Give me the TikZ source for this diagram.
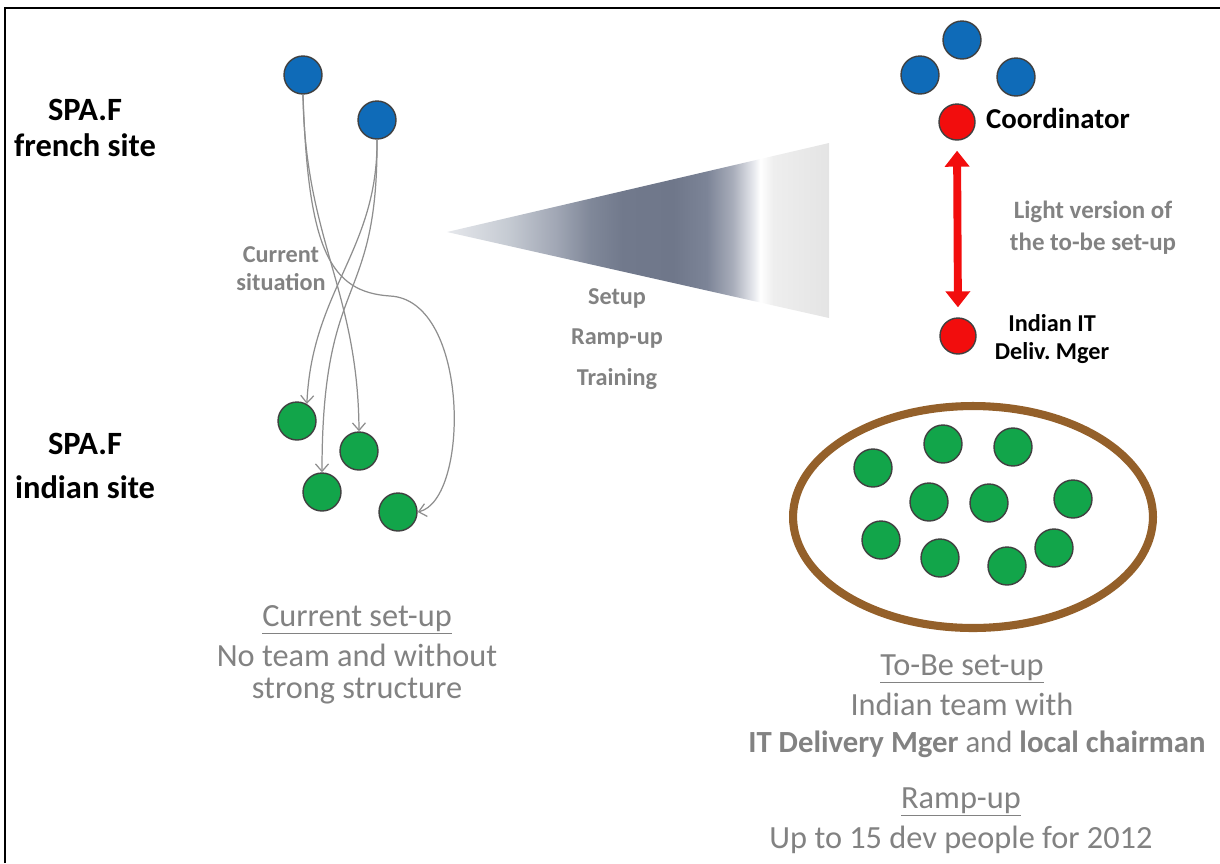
\documentclass[tikz,border=0pt]{standalone}
\usepackage{fontspec}
\setmainfont{Carlito}
\usetikzlibrary{arrows.meta,shapes.geometric}

\definecolor{pblue}{HTML}{0F6BB8}
\definecolor{pgreen}{HTML}{12A54A}
\definecolor{pred}{HTML}{F20D0D}
\definecolor{ring}{HTML}{94602A}
\definecolor{txtgray}{HTML}{828282}
\definecolor{linegray}{HTML}{8E8E8E}
\definecolor{wA}{HTML}{E6E8EC}
\definecolor{wB}{HTML}{C6CBD3}
\definecolor{wC}{HTML}{A0A6B4}
\definecolor{wD}{HTML}{808899}
\definecolor{wE}{HTML}{71798C}
\definecolor{wF}{HTML}{6F778A}
\definecolor{wG}{HTML}{7C8497}
\definecolor{wH}{HTML}{A8ADBA}
\definecolor{wI}{HTML}{E6E8ED}
\definecolor{wJ}{HTML}{EEEEEE}
\definecolor{wK}{HTML}{E4E4E4}
\pgfdeclarehorizontalshading{wedgefade}{100bp}{color(0bp)=(wA); color(25bp)=(wA);
  color(32.9bp)=(wB); color(39.4bp)=(wC); color(43.7bp)=(wD); color(48bp)=(wE);
  color(54.6bp)=(wF); color(59bp)=(wG); color(62.4bp)=(wH); color(65.1bp)=(wI);
  color(66bp)=(white); color(67.7bp)=(wJ); color(75bp)=(wK); color(100bp)=(wK)}

\begin{document}
\begin{tikzpicture}[x=0.02cm,y=-0.02cm,
  person/.style={circle,draw=black!75,line width=0.8pt,minimum size=0.76cm,inner sep=0pt},
  blueman/.style={person,fill=pblue},
  greenman/.style={person,fill=pgreen},
  redman/.style={person,fill=pred,minimum size=0.72cm},
  flow/.style={draw=linegray,line width=0.7pt,-{Straight Barb[length=0.15cm,width=0.26cm]}},
  site/.style={font=\fontsize{18.5}{22}\selectfont\bfseries,align=center},
  smallgray/.style={text=txtgray,font=\fontsize{13.8}{16}\selectfont\bfseries,align=center},
  bigtext/.style={text=txtgray,font=\fontsize{18.4}{22}\selectfont,anchor=base,inner sep=0pt}]
\useasboundingbox (0,0) rectangle (1220,863);
% frame of the slide
\draw[line width=1.4pt] (5,863) -- (5,8) -- (1220,8);

% current set-up (left)
\node[site] (frsite) at (85,128) {SPA.F\\[-1pt]french site};
\node[site] (insite) at (85,466) {SPA.F\\[3pt]indian site};
\node[smallgray] (cursit) at (281,269) {Current\\situation};
\node[blueman] (b1) at (303,75) {};
\node[blueman] (b2) at (377,120) {};
\node[greenman] (g1) at (297,421) {};
\node[greenman] (g2) at (359,451) {};
\node[greenman] (g3) at (322,492) {};
\node[greenman] (g4) at (398,512) {};
\draw[flow] (b1.south) .. controls (305,240) and (358,290) .. (g2.north);
\draw[flow] (b1.south) .. controls (308,250) and (330,292) .. (390,296)
  .. controls (470,300) and (470,500) .. (g4.east);
\draw[flow] (b2.south) .. controls (378,250) and (312,290) .. (g1.60);
\draw[flow] (b2.south) .. controls (378,310) and (322,270) .. (g3.north);

% transition wedge
\shade[shading=wedgefade] (447,232) -- (829,143) -- (829,318) -- cycle;
\node[smallgray,font=\fontsize{13.8}{23.2}\selectfont\bfseries] (steps) at (617,339) {Setup\\Ramp-up\\Training};

% to-be set-up (right)
\node[blueman] (b3) at (962,40) {};
\node[blueman] (b4) at (920,75) {};
\node[blueman] (b5) at (1016,77) {};
\node[redman] (coord) at (957,122) {};
\node[anchor=west,font=\fontsize{16.4}{18}\selectfont\bfseries] (coordtxt) at (980,118) {Coordinator};
\node[redman] (deliv) at (958,336) {};
\node[font=\fontsize{13.8}{16}\selectfont\bfseries,align=center] (delivtxt) at (1052,339) {Indian IT\\Deliv.\ Mger};
\draw[pred,line width=4.5pt,shorten <=0.2cm,shorten >=0.2cm,
  {Triangle[width=0.48cm,length=0.32cm]}-{Triangle[width=0.48cm,length=0.32cm]}] (coord.south) -- (deliv.north);
\node[smallgray,font=\fontsize{14.2}{18}\selectfont\bfseries] (light) at (1093,228) {Light version of\\the to-be set-up};
\node[ellipse,draw=ring,line width=4.6pt,minimum width=7.2cm,minimum height=4.44cm,inner sep=0pt] (team) at (973,517) {};
\foreach \x/\y [count=\i] in {873/468,943/444,1013/447,929/502,989/503,1073/499,881/540,940/558,1007/566,1054/548}
  \node[greenman] (t\i) at (\x,\y) {};

% captions
\node[bigtext] (curhead) at (357,626) {\underline{Current set-up}};
\node[bigtext] (curline1) at (357,666) {No team and without};
\node[bigtext] (curline2) at (357,698) {strong structure};
\node[bigtext] (tobehead) at (962,675) {\underline{To-Be set-up}};
\node[bigtext] (tobeline1) at (962,715) {Indian team with};
\node[bigtext,font=\fontsize{17.5}{22}\selectfont] (tobeline2) at (977,752) {\textbf{IT Delivery Mger} and \textbf{local chairman}};
\node[bigtext] (ramphead) at (961,808) {\underline{Ramp-up}};
\node[bigtext] (rampline) at (961,848) {Up to 15 dev people for 2012};
\end{tikzpicture}
\end{document}
